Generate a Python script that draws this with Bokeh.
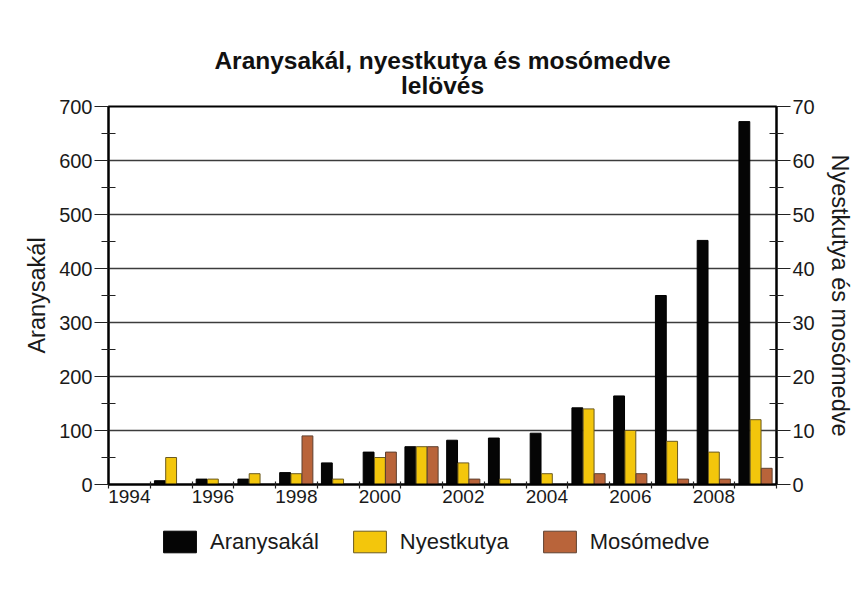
from bokeh.plotting import figure
from bokeh.layouts import column
from bokeh.models import (Range1d, LinearAxis, FixedTicker, Legend, LegendItem,
                          Title, ColumnDataSource)
from bokeh.transform import dodge
from bokeh.embed import file_html
from bokeh.resources import INLINE

# ---- data ----
years = list(range(1994, 2010))
aranysakal = [0, 7, 10, 10, 22, 40, 60, 70, 82, 86, 95, 142, 164, 350, 452, 672]
nyestkutya = [0, 5, 1, 2, 2, 1, 5, 7, 4, 1, 2, 14, 10, 8, 6, 12]
mosomedve = [0, 0, 0, 0, 9, 0, 6, 7, 1, 0, 0, 2, 2, 1, 1, 3]
year_labels = [1994, 1996, 1998, 2000, 2002, 2004, 2006, 2008]
left_ticks = [0, 100, 200, 300, 400, 500, 600, 700]
left_minor = [50, 150, 250, 350, 450, 550, 650]
right_ticks = [0, 10, 20, 30, 40, 50, 60, 70]
right_minor = [5, 15, 25, 35, 45, 55, 65]
series_names = ["Aranysakál", "Nyestkutya", "Mosómedve"]
series_cols = ["a", "n", "m"]
series_colors = ["#050505", "#F3C60C", "#B9643A"]
series_lines = ["#000000", "#6b5a20", "#5e4030"]
title_line1 = "Aranysakál, nyestkutya és mosómedve"
title_line2 = "lelövés"
left_label = "Aranysakál"
right_label = "Nyestkutya és mosómedve"

FONT = "Liberation Sans"

src = ColumnDataSource(dict(year=years, a=aranysakal, n=nyestkutya, m=mosomedve))

p = figure(width=861, height=516, output_backend="svg", toolbar_location=None,
           x_range=Range1d(years[0] - 0.5, years[-1] + 0.5),
           y_range=Range1d(0, 700),
           min_border_left=108, min_border_right=85,
           min_border_top=106, min_border_bottom=32)
p.extra_y_ranges = {"right": Range1d(0, 70)}

p.background_fill_color = "white"
p.border_fill_color = "white"
p.outline_line_color = "black"
p.outline_line_width = 2

# title
title_kw = dict(align="center", text_font=FONT, text_font_size="24.5px",
                text_font_style="bold", text_color="#111111")
if "text_align" in Title.properties():
    t = Title(text=title_line1 + "\n" + title_line2, text_align="center",
              text_line_height=0.93, standoff=15, **title_kw)
    p.add_layout(t, "above")
else:
    t2 = Title(text=title_line2, standoff=16, **title_kw)
    t1 = Title(text=title_line1, standoff=0, **title_kw)
    p.add_layout(t2, "above")
    p.add_layout(t1, "above")

# grid
p.xgrid.visible = False
p.ygrid.ticker = FixedTicker(ticks=left_ticks)
p.ygrid.grid_line_color = "#3c3c3c"
p.ygrid.grid_line_width = 1.5

# bars
W = 0.26
r_a = p.vbar(x=dodge("year", -0.27, range=p.x_range), top="a", width=W, bottom=0,
             source=src, fill_color=series_colors[0], line_color=series_lines[0],
             line_width=1)
r_n = p.vbar(x=dodge("year", 0.0, range=p.x_range), top="n", width=W, bottom=0,
             source=src, fill_color=series_colors[1], line_color=series_lines[1],
             line_width=1, y_range_name="right")
r_m = p.vbar(x=dodge("year", 0.265, range=p.x_range), top="m", width=W, bottom=0,
             source=src, fill_color=series_colors[2], line_color=series_lines[2],
             line_width=1, y_range_name="right")

# axes styling
def style_axis(ax):
    ax.axis_line_color = "black"
    ax.axis_line_width = 2
    ax.major_tick_line_color = "#222222"
    ax.minor_tick_line_color = "#222222"
    ax.major_tick_line_width = 1.2
    ax.minor_tick_line_width = 1.2
    ax.major_label_text_font = FONT
    ax.major_label_text_font_size = "20px"
    ax.major_label_text_color = "#1a1a1a"
    ax.axis_label_text_font = FONT
    ax.axis_label_text_font_size = "23.5px"
    ax.axis_label_text_font_style = "normal"
    ax.axis_label_text_color = "#1a1a1a"

xa = p.xaxis[0]
xa.ticker = FixedTicker(ticks=year_labels,
                        minor_ticks=[y - 0.5 for y in years] + [years[-1] + 0.5])
style_axis(xa)
xa.major_tick_in = 0
xa.major_tick_out = 0
xa.minor_tick_in = 3
xa.minor_tick_out = 4
xa.major_label_text_font_size = "19px"
xa.major_label_standoff = 1

ya = p.yaxis[0]
ya.ticker = FixedTicker(ticks=left_ticks, minor_ticks=left_minor)
ya.axis_label = left_label
style_axis(ya)
ya.major_tick_in = 0
ya.major_tick_out = 14
ya.minor_tick_in = 7
ya.minor_tick_out = 7
ya.major_label_standoff = 2
ya.axis_label_standoff = 6

ra = LinearAxis(y_range_name="right", axis_label=right_label)
ra.ticker = FixedTicker(ticks=right_ticks, minor_ticks=right_minor)
style_axis(ra)
ra.major_tick_in = 0
ra.major_tick_out = 14
ra.minor_tick_in = 7
ra.minor_tick_out = 7
ra.major_label_standoff = 2
ra.axis_label_standoff = 9
p.add_layout(ra, "right")

# ---- legend strip below the chart (frame aligned with the chart's frame) ----
lg = figure(width=861, height=60, output_backend="svg", toolbar_location=None,
            x_range=Range1d(0, 1), y_range=Range1d(0, 1),
            x_axis_type=None, y_axis_type=None,
            min_border_left=108, min_border_right=85, min_border_top=0,
            min_border_bottom=0)
lg.outline_line_color = None
lg.grid.visible = False
lg.background_fill_color = "white"
lg.border_fill_color = "white"
# hidden swatch renderers (same data source) used only for the legend keys
swatches = [lg.vbar(x="year", top=col, width=W, source=src, visible=False,
                    fill_color=c, line_color=lc, line_width=1)
            for col, c, lc in zip(series_cols, series_colors, series_lines)]
legend = Legend(items=[LegendItem(label=n, renderers=[r])
                       for n, r in zip(series_names, swatches)],
                orientation="horizontal", location=(51, 21),
                glyph_width=41, glyph_height=27, label_standoff=10, spacing=30,
                label_text_font=FONT, label_text_font_size="22px",
                label_text_color="#1a1a1a", label_height=27,
                border_line_alpha=0, background_fill_alpha=0,
                inactive_fill_alpha=0, margin=0, padding=0)
lg.add_layout(legend, "center")

layout = column(p, lg, spacing=0)
open("out.html", "w").write(file_html(layout, INLINE))
